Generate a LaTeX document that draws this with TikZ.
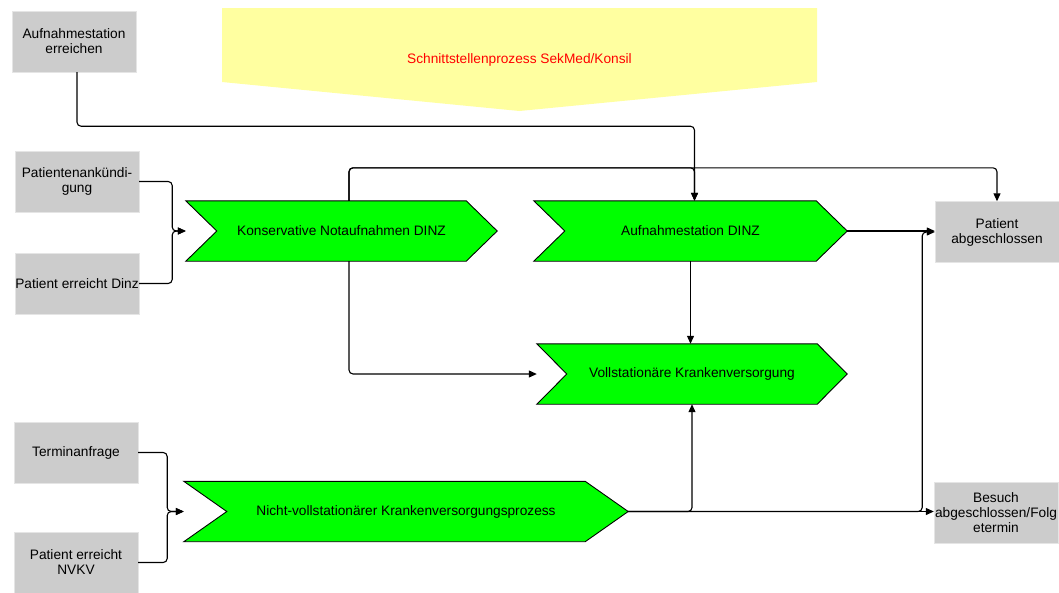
\documentclass[tikz,border=0pt]{standalone}
\usepackage{fontspec}
\setmainfont{Liberation Sans}
\usetikzlibrary{arrows.meta,backgrounds}
\definecolor{procgreen}{RGB}{0,255,0}
\definecolor{boxgray}{RGB}{204,204,204}
\definecolor{bannerfill}{RGB}{255,255,160}
\begin{document}
\begin{tikzpicture}
[
x=1pt,y=-1pt,
font=\fontsize{13.7}{15}\selectfont,
conn/.style={draw,line width=1.1pt,rounded corners=4pt},
arr/.style={conn,-{Triangle[length=8pt,width=7pt]}},
inbox/.style={fill=boxgray,draw=black!10,minimum width=124pt,minimum height=61pt,inner sep=0pt,align=center},
proc/.style={minimum width=#1,minimum height=60pt,inner sep=0pt},
procshape/.style={fill=procgreen,draw=black,line width=0.9pt},
]
\useasboundingbox (0,0) rectangle (1059,592);

%Place the nodes
\node[inbox] (ankunft) at (74,41.5) {Aufnahmestation\\erreichen};
\node[inbox] (ankuend) at (77,181.5) {Patientenankündi-\\gung};
\node[inbox] (erreicht) at (77,283.5) {Patient erreicht Dinz};
\node[inbox] (termin) at (76,452.5) {Terminanfrage};
\node[inbox] (nvkv) at (76,562.5) {Patient erreicht\\NVKV};
\node[inbox] (abgeschl) at (997,232) {Patient\\abgeschlossen};
\node[inbox] (besuch) at (996,512.5) {Besuch\\abgeschlossen/Folg\\etermin};
\node[proc=311pt] (konserv) at (341.5,231) {Konservative Notaufnahmen DINZ};
\node[proc=313pt] (aufnst) at (690.5,231) {Aufnahmestation DINZ};
\node[proc=310pt] (vollst) at (692,374) {Vollstationäre Krankenversorgung};
\node[proc=444pt] (nichtvoll) at (406,511.5) {Nicht-vollstationärer Krankenversorgungsprozess};
\node[text=red] (schnitt) at (519.5,60) {Schnittstellenprozess SekMed/Konsil};

%Shapes behind the nodes
\begin{scope}[on background layer]
\fill[bannerfill] (222,8) -- (817,8) -- (817,82) -- (519.5,111) -- (222,82) -- cycle;
\foreach \n/\d in {konserv/31,aufnst/31,vollst/30,nichtvoll/43}
  \draw[procshape] (\n.north west) -- ([xshift=-\d pt]\n.north east) -- (\n.east)
    -- ([xshift=-\d pt]\n.south east) -- (\n.south west) -- ([xshift=\d pt]\n.west) -- cycle;
\end{scope}

%Draw the connections
\foreach \s/\t/\d in {ankuend/konserv/33,erreicht/konserv/33,termin/nichtvoll/29,nvkv/nichtvoll/29}
  \draw[arr] (\s.east) -- ++(\d,0) |- (\t.west);
\draw[arr] ([xshift=3pt]ankunft.south) -- ++(0,54) -| ([xshift=4pt]aufnst.north);
\draw[arr] ([xshift=7.5pt]konserv.north) -- ++(0,-33) -| ([xshift=4pt]aufnst.north);
\draw[arr] ([xshift=7.5pt]konserv.north) -- ++(0,-33) -| (abgeschl.north);
\draw[arr] ([xshift=7.5pt]konserv.south) |- (vollst.west);
\draw[arr] (aufnst.south) -- (aufnst.south |- vollst.north);
\draw[arr] (aufnst.east) -- (aufnst.east -| abgeschl.west);
\draw[arr] (nichtvoll.east) -| (vollst.south);
\draw[arr] (nichtvoll.east) -- ++(294,0) |- (abgeschl.west);
\draw[arr] (nichtvoll.east) -- (nichtvoll.east -| besuch.west);
\end{tikzpicture}
\end{document}
